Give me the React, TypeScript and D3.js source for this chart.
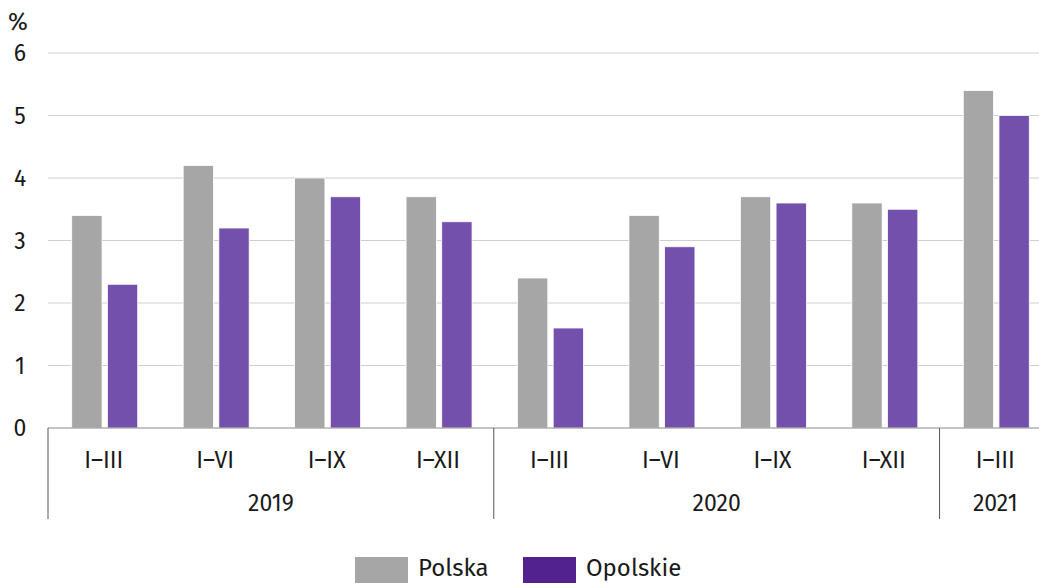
import React from 'react';
import * as d3 from 'd3';

const periods = ['I–III', 'I–VI', 'I–IX', 'I–XII', 'I–III', 'I–VI', 'I–IX', 'I–XII', 'I–III'];
const years = ['2019', '2020', '2021'];
const yearSpans = [4, 4, 1];
const series = ['Polska', 'Opolskie'];
const polska = [3.4, 4.2, 4.0, 3.7, 2.4, 3.4, 3.7, 3.6, 5.4];
const opolskie = [2.3, 3.2, 3.7, 3.3, 1.6, 2.9, 3.6, 3.5, 5.0];
const yTicks = [0, 1, 2, 3, 4, 5, 6];

const W = 1039;
const H = 583;
const colors = ['#a6a6a6', '#7450ad'];
const legendColors = ['#a6a6a6', '#52238f'];
const font = "'Fira Sans', 'Noto Sans', 'Open Sans', sans-serif";
const textColor = '#1a1a1a';
const fs = 23;

export default function App() {
  // left edge 48, last group runs past the window edge
  const x0 = d3.scaleBand<number>()
    .domain(d3.range(periods.length))
    .range([48, 1051]);
  const bw = x0.bandwidth();
  const x1 = d3.scaleBand<string>()
    .domain(series)
    .range([bw / 2 - 32, bw / 2 + 34])
    .paddingInner(0.15);
  const y = d3.scaleLinear().domain([0, 6]).range([428, 53]);

  const data = [polska, opolskie];

  // group separators
  let acc = 0;
  const groups = years.map((yr, i) => {
    const start = acc;
    acc += yearSpans[i];
    const x = x0(start)!;
    const last = start + yearSpans[i] >= periods.length;
    const xEnd = last ? 1051 : x0(start + yearSpans[i])!;
    return { yr, x, mid: last ? x + bw / 2 : (x + xEnd) / 2 };
  });

  return (
    <svg width={W} height={H} style={{ position: 'absolute', left: 0, top: 0 }} fontFamily={font}>
      <text x={18} y={30} fontSize={24} fill={textColor} textAnchor="middle">%</text>
      {yTicks.map(t => (
        <g key={t}>
          {t > 0 && <line x1={48} x2={W} y1={y(t)} y2={y(t)} stroke="#cfcfcf" strokeWidth={1} />}
          <text x={20} y={y(t)} dy="0.35em" fontSize={fs} fill={textColor} textAnchor="middle">{t}</text>
        </g>
      ))}
      {data.map((vals, s) =>
        vals.map((v, i) => (
          <rect key={`${s}-${i}`}
            x={x0(i)! + x1(series[s])!}
            width={x1.bandwidth()}
            y={y(v)}
            height={y(0) - y(v)}
            fill={colors[s]}
            stroke="#ffffff"
            strokeWidth={0.8} />
        ))
      )}
      <line x1={48} x2={W} y1={y(0)} y2={y(0)} stroke="#8a8a8a" strokeWidth={1.2} />
      {groups.map(g => (
        <line key={g.yr} x1={g.x} x2={g.x} y1={y(0)} y2={519} stroke="#555" strokeWidth={1} />
      ))}
      {periods.map((p, i) => (
        <text key={i} x={x0(i)! + bw / 2} y={460} dy="0.35em" fontSize={fs} fill={textColor} textAnchor="middle">{p}</text>
      ))}
      {groups.map(g => (
        <text key={g.yr} x={g.mid} y={503} dy="0.35em" fontSize={fs} fill={textColor} textAnchor="middle">{g.yr}</text>
      ))}
      {series.map((s, i) => {
        const lx = i === 0 ? 355 : 523;
        return (
          <g key={s}>
            <rect x={lx} y={557} width={53} height={26} fill={legendColors[i]} />
            <text x={lx + 63} y={576} fontSize={24} fill={textColor}>{s}</text>
          </g>
        );
      })}
    </svg>
  );
}
